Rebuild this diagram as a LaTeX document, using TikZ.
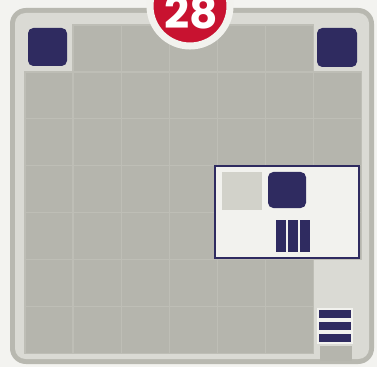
\documentclass[tikz,border=0pt]{standalone}
\usepackage{fontspec}
\setsansfont{Poppins}
\usepackage{tikz}
\usetikzlibrary{positioning}
\definecolor{paper}{HTML}{F3F3F0}
\definecolor{rimgray}{HTML}{B8B8B0}
\definecolor{bandgray}{HTML}{DADAD4}
\definecolor{fieldgray}{HTML}{B5B5AD}
\definecolor{linegray}{HTML}{BEBEB6}
\definecolor{navy}{HTML}{2F2B60}
\definecolor{badgered}{HTML}{C81230}
\definecolor{cardwhite}{HTML}{F2F2EE}
\definecolor{cardgray}{HTML}{D2D2CA}

\begin{document}
\begin{tikzpicture}[
    x=0.02cm, y=-0.02cm,
    tile/.style={
        fill=navy,
        rounded corners=3pt,
    },
    bar/.style={
        fill=navy,
        draw=cardwhite,
        line width=0.6pt,
    },
    field/.style={
        fill=fieldgray,
        draw=linegray,
        line width=0.8pt,
    },
]
\useasboundingbox[fill=paper] (0,0) rectangle (377,367);

% board
\draw[fill=rimgray,draw=none,rounded corners=9pt] (10,8) rectangle (374,364);
\draw[fill=bandgray,draw=none,rounded corners=6pt] (15,13) rectangle (369,359);

% field of 7 x 7 cells, corner and strip cells left light
\foreach \c in {0,...,6} {
    \foreach \r in {0,...,6} {
        \pgfmathtruncatemacro{\light}{(\r==0 && (\c==0 || \c==6)) || (\c==6 && \r>4)}
        \ifnum\light=0
            \pgfmathsetmacro{\xa}{25+48.1*\c}
            \pgfmathsetmacro{\ya}{25+46.9*\r}
            \draw[field] (\xa,\ya) rectangle ++(48.1,46.9);
        \fi
    }
}
\fill[fieldgray] (320,346) rectangle (352,361);

% corner tiles
\fill[tile] (28,28) rectangle (67,66);
\fill[tile] (317,28) rectangle (357,67);

% card
\node[draw=navy,fill=cardwhite,line width=1.2pt,minimum width=144*0.02cm,
    minimum height=92*0.02cm,inner sep=0pt] (card) at (287,212) {};
\fill[cardgray] (222,172) rectangle (262,210);
\fill[tile] (268,172) rectangle (306,208);
\foreach \x in {276,288,300} {
    \fill[navy] (\x,220) rectangle ++(10,32);
}

% stack of bars
\foreach \y in {309,321,333} {
    \draw[bar] (318,\y) rectangle ++(34,10);
}

% badge
\node[circle,fill=badgered,draw=cardwhite,line width=4pt,minimum size=80*0.02cm,
    inner sep=0pt] (badge) at (190,6) {};
\node[text=white,font=\sffamily\bfseries\fontsize{25}{25}\selectfont] (num)
    at (191,12) {28};
\end{tikzpicture}
\end{document}
